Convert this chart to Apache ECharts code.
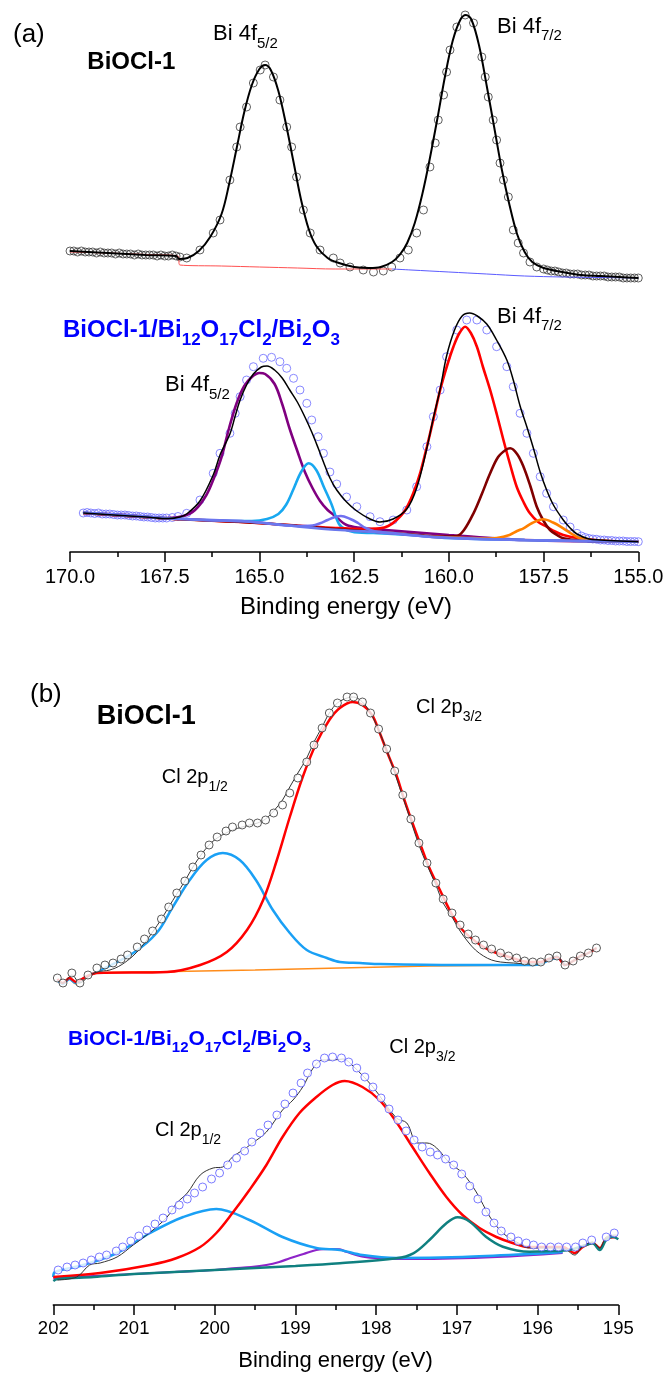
<!DOCTYPE html>
<html><head><meta charset="utf-8">
<script src="https://cdn.jsdelivr.net/npm/echarts@6/dist/echarts.min.js"></script>
<style>html,body{margin:0;padding:0;background:#fff}#c{width:667px;height:1373px}</style>
</head><body><div id="c"></div>
<script>
// ---------- Panel (a): Bi 4f, BiOCl-1 (upper spectrum) ----------
const aTopObs = [[170.0,301],[169.9,301],[169.8,300],[169.7,301],[169.6,300],[169.5,300],[169.4,300],[169.3,299],[169.2,300],[169.1,299],[169.0,299],[168.9,299],[168.8,298],[168.7,299],[168.6,298],[168.5,298],[168.4,298],[168.3,297],[168.2,298],[168.1,297],[168.0,297],[167.9,297],[167.8,297],[167.7,296],[167.6,297],[167.5,296],[167.4,296],[167.3,297],[167.2,296],[167.1,295],[166.92,294],[166.57,302],[166.22,319],[166.04,332],[165.78,372],[165.60,405],[165.51,425],[165.34,445],[165.16,469],[164.98,482],[164.85,487],[164.63,475],[164.46,452],[164.28,425],[164.15,405],[164.02,375],[163.84,342],[163.66,319],[163.40,302],[163.05,294],[162.87,289],[162.61,285],[162.26,282],[161.99,280],[161.73,281],[161.51,285],[161.29,294],[161.07,302],[160.85,319],[160.67,342],[160.50,385],[160.36,409],[160.28,432],[160.14,457],[160.06,480],[159.97,502],[159.79,525],[159.57,537],[159.35,529],[159.13,495],[159.04,475],[158.96,455],[158.83,432],[158.74,412],[158.65,389],[158.56,372],[158.43,355],[158.30,322],[158.17,309],[158.03,299],[157.86,290],[157.68,285],[157.50,283],[157.4,282],[157.3,281],[157.2,281],[157.1,280],[157.0,279],[156.9,279],[156.8,278],[156.7,278],[156.6,278],[156.5,277],[156.4,277],[156.3,277],[156.2,276],[156.1,276],[156.0,276],[155.9,276],[155.8,275],[155.7,275],[155.6,275],[155.5,275],[155.4,274],[155.3,274],[155.2,274],[155.1,274],[155.0,274]];
const aTopFit = [[170.0,301],[169.0,299],[168.0,297],[167.2,296],[167.12,293],[166.9,294],[166.6,301],[166.3,315],[166.0,338],[165.8,368],[165.6,404],[165.4,440],[165.2,467],[165.0,483],[164.85,487],[164.7,482],[164.5,461],[164.3,428],[164.1,390],[163.9,352],[163.7,323],[163.5,306],[163.2,294],[162.9,289],[162.5,285],[162.1,284],[161.8,285],[161.5,290],[161.3,297],[161.1,309],[160.9,329],[160.7,358],[160.5,394],[160.3,434],[160.1,476],[159.9,511],[159.7,532],[159.55,537],[159.4,532],[159.2,506],[159.0,466],[158.8,424],[158.6,382],[158.4,347],[158.2,318],[158.0,300],[157.8,290],[157.5,284],[157.0,280],[156.5,277],[156.0,276],[155.5,275],[155.0,274]];
const aTopBgRed = [[170.0,300],[169.0,299],[168.0,297.5],[167.15,296],[167.1,287],[166.0,286],[165.0,285],[164.0,284],[163.0,283],[162.0,283],[161.5,283]];
const aTopBgBlue = [[161.5,283],[161.0,282],[160.0,280],[159.0,278],[158.0,276],[157.0,275],[156.0,274.5],[155.0,274]];

// ---------- Panel (a): BiOCl-1/Bi12O17Cl2/Bi2O3 (lower spectrum) ----------
const aBotObs = [[169.65,39],[169.55,39.5],[169.45,39],[169.35,38.5],[169.25,39],[169.15,38],[169.05,38],[168.95,38],[168.85,37.5],[168.75,37],[168.65,37],[168.55,37],[168.45,36.5],[168.35,36],[168.25,36],[168.15,35.5],[168.05,35],[167.95,35],[167.85,34.5],[167.75,34],[167.65,34],[167.55,34],[167.45,34],[167.3,34.5],[167.15,35.5],[166.92,38.7],[166.57,52],[166.22,78.7],[166.04,98.7],[165.78,118.7],[165.64,138.7],[165.51,155.3],[165.34,172],[165.16,185.3],[164.90,193.7],[164.68,194.7],[164.46,190.3],[164.28,183.7],[164.10,173.7],[163.93,162],[163.75,148.7],[163.62,132],[163.45,115.3],[163.31,98.7],[163.14,80],[162.96,68],[162.70,55],[162.43,45.3],[162.08,35.3],[161.82,30.3],[161.47,32],[161.11,42],[160.85,65.3],[160.58,105.3],[160.41,135.3],[160.23,162],[160.06,195.3],[159.79,222],[159.53,232],[159.26,232],[159.0,222],[158.74,205.3],[158.47,185.3],[158.30,165.3],[158.12,138.7],[157.94,118.7],[157.77,98.7],[157.59,75.3],[157.42,58.7],[157.24,45.3],[156.98,32],[156.8,25],[156.62,18.7],[156.5,16],[156.4,14.5],[156.3,13.5],[156.2,13],[156.1,12.7],[156.0,12],[155.9,12],[155.8,11.5],[155.7,11.5],[155.6,11],[155.5,11],[155.4,11],[155.3,10.5],[155.2,10.5],[155.1,10.5],[155.0,10.3]];
const aBotFit = [[169.65,39],[168.0,35],[167.4,33.5],[167.1,35],[166.92,38],[166.57,51],[166.22,77],[166.04,97],[165.78,118],[165.64,136],[165.51,152],[165.34,167],[165.16,178],[164.95,185],[164.8,186],[164.6,182],[164.4,174],[164.2,162],[164.0,150],[163.8,135],[163.62,120],[163.45,104],[163.31,90],[163.14,74],[162.96,62],[162.7,50],[162.43,41],[162.08,33],[161.82,30],[161.47,33],[161.11,43],[160.85,64],[160.58,104],[160.41,134],[160.23,163],[160.06,196],[159.85,222],[159.65,236],[159.45,239],[159.25,236],[159.0,228],[158.74,212],[158.47,192],[158.3,172],[158.12,146],[157.94,125],[157.77,104],[157.59,80],[157.42,62],[157.24,47],[156.98,32],[156.8,24],[156.62,18],[156.3,13],[156.0,12],[155.5,11],[155.0,10.3]];
const aBotBg = [[169.65,39.3],[168.5,37],[167.44,33.7],[166.5,32],[165.25,30.3],[163.93,25.3],[162.87,22],[161.5,19],[160.5,15.3],[158.0,12],[155.0,10.3]];
const aBotPurple = [[169.65,39.3],[168.5,37],[167.44,34],[167.0,36],[166.7,42],[166.4,57],[166.2,74],[166.0,95],[165.8,124],[165.6,149],[165.4,166],[165.2,175],[165.0,179],[164.85,178],[164.6,168],[164.4,148],[164.2,123],[164.0,101],[163.8,80],[163.6,64],[163.4,51],[163.2,42],[163.0,36],[162.7,27],[162.3,24],[162.0,23],[161.0,20],[160.0,17],[158.0,12],[155.0,10.3]];
const aBotCyan = [[169.65,39.3],[167.44,33.7],[166.5,32],[165.6,31],[165.2,31],[164.8,33],[164.5,38],[164.3,47],[164.1,63],[163.9,80],[163.7,88.7],[163.5,82],[163.3,65],[163.1,48],[162.9,28],[162.7,22],[162.4,19.5],[162.0,19],[161.0,17],[160.0,14],[158.0,12],[155.0,10.3]];
const aBotViolet = [[169.65,39.3],[167.44,33.7],[165.25,30.3],[164.0,26],[163.6,26.5],[163.4,28.7],[163.2,32],[163.0,35],[162.85,36],[162.6,33],[162.4,29],[162.2,24],[161.9,20],[161.5,18.5],[160.0,14],[158.0,12],[155.0,10.3]];
const aBotRed = [[169.65,39],[167.44,33.5],[165.5,30],[164.0,26.5],[163.0,24],[162.3,23],[161.82,23.7],[161.6,26],[161.38,32],[161.15,42],[160.94,58.7],[160.75,80],[160.58,105.3],[160.4,134],[160.23,162],[160.05,186],[159.88,205.3],[159.72,219],[159.57,225.3],[159.42,219],[159.26,205.3],[159.1,185],[158.91,162],[158.73,137],[158.56,112],[158.38,87],[158.21,65.3],[158.03,50],[157.86,38.7],[157.64,30],[157.42,25.3],[157.2,20.5],[156.98,17],[156.6,14],[156.0,11.5],[155.0,10.3]];
const aBotMaroon = [[169.65,39],[167.44,33.5],[165.0,29],[163.0,23],[161.5,19],[160.5,16],[160.1,15.5],[159.79,16],[159.6,22],[159.35,38.7],[159.13,58],[158.91,78.7],[158.7,95],[158.5,102],[158.38,103.7],[158.2,98],[158.03,85.3],[157.85,66],[157.68,45.3],[157.5,31],[157.33,22],[157.15,17],[156.98,13.7],[156.5,11.5],[155.0,10.3]];
const aBotOrange = [[160.5,15.3],[159.5,14],[159.0,13.5],[158.74,14],[158.4,17],[158.2,21],[158.03,23.7],[157.8,29],[157.51,32.7],[157.25,29.5],[156.98,23.7],[156.75,18],[156.54,13.7],[156.2,11.5],[155.0,10.3]];
const aTicks = [170.0, 167.5, 165.0, 162.5, 160.0, 157.5, 155.0];

// ---------- Panel (b): Cl 2p, BiOCl-1 (upper spectrum) ----------
const bTopObs = [[201.95,327],[201.88,322],[201.77,332],[201.67,322],[201.57,330],[201.46,337],[201.36,340],[201.26,342],[201.16,346],[201.08,350],[200.96,358],[200.87,366],[200.77,374],[200.66,386],[200.57,398],[200.47,412],[200.37,424],[200.27,438],[200.17,450],[200.07,460],[199.97,468],[199.86,474],[199.78,478],[199.66,480],[199.57,482],[199.47,482],[199.37,485],[199.27,492],[199.16,500],[199.07,512],[198.97,527],[198.86,543],[198.77,560],[198.67,577],[198.58,592],[198.48,602],[198.36,608],[198.28,608],[198.17,603],[198.07,592],[197.97,576],[197.87,556],[197.77,534],[197.67,510],[197.57,486],[197.47,462],[197.37,442],[197.26,422],[197.17,406],[197.06,392],[196.96,380],[196.86,371],[196.77,365],[196.67,360],[196.57,356],[196.46,352],[196.36,349],[196.26,347],[196.16,344],[196.06,343],[195.96,343],[195.86,347],[195.76,349],[195.66,340],[195.56,344],[195.47,349],[195.37,352],[195.27,357]];
const bTopFit = [[201.95,325],[201.88,322],[201.77,330],[201.67,322],[201.57,328],[201.46,333],[201.3,335],[201.16,340],[201.0,350],[200.87,362],[200.77,373],[200.66,386],[200.57,398],[200.47,411],[200.37,424],[200.27,438],[200.17,450],[200.07,460],[199.97,467],[199.86,472],[199.78,475],[199.66,478],[199.57,480],[199.47,482],[199.37,486],[199.27,494],[199.16,505],[199.07,518],[198.97,532],[198.86,547],[198.77,563],[198.67,578],[198.58,592],[198.48,602],[198.36,607],[198.28,608],[198.17,603],[198.07,592],[197.97,575],[197.87,555],[197.77,532],[197.67,508],[197.57,484],[197.47,460],[197.37,440],[197.26,420],[197.17,402],[197.06,388],[196.96,374],[196.86,363],[196.77,355],[196.67,349],[196.57,345],[196.46,343],[196.3,342],[196.1,341],[195.96,341],[195.86,346],[195.76,349],[195.66,340],[195.56,344],[195.47,349],[195.37,352],[195.27,357]];
const bTopRed = [[201.95,326],[201.88,322],[201.8,327],[201.72,323],[201.6,328],[201.46,332],[200.59,333],[200.18,340],[199.85,353],[199.60,375],[199.40,405],[199.23,445],[199.07,488],[198.91,528],[198.74,562],[198.58,585],[198.45,597],[198.29,603],[198.17,600],[198.05,590],[197.96,573],[197.86,552],[197.75,530],[197.65,505],[197.55,482],[197.44,458],[197.34,437],[197.21,415],[197.07,392],[196.93,375],[196.76,363],[196.60,355],[196.35,348],[196.10,343],[195.96,343],[195.86,346],[195.76,348],[195.66,340],[195.56,344],[195.47,349],[195.37,352],[195.27,357]];
const bTopBlue = [[201.95,325],[201.88,321],[201.8,326],[201.72,322],[201.6,328],[201.46,333],[201.01,352],[200.72,372],[200.52,398],[200.31,425],[200.10,445],[199.90,452],[199.69,445],[199.49,425],[199.28,395],[199.07,372],[198.86,355],[198.61,347],[198.45,343],[198.2,342],[197.95,341],[197.0,340],[196.1,340],[195.96,341],[195.86,345],[195.76,347],[195.66,339]];
const bTopBg = [[201.95,325],[201.88,321],[201.8,326],[201.72,321],[201.6,327],[201.46,332],[200.5,333.5],[199.5,335],[198.45,337],[197.34,339],[196.1,340],[195.96,341],[195.86,345],[195.76,347],[195.66,339]];

// ---------- Panel (b): BiOCl-1/Bi12O17Cl2/Bi2O3 (lower spectrum) ----------
const bBotObs = [[201.94,35],[201.83,38],[201.73,40],[201.63,42],[201.53,45],[201.43,48],[201.34,50],[201.22,54],[201.14,58],[201.04,64],[200.94,69],[200.84,75],[200.74,81],[200.64,87],[200.53,95],[200.44,100],[200.34,106],[200.25,112],[200.15,118],[200.04,126],[199.94,132],[199.84,140],[199.73,147],[199.63,154],[199.54,163],[199.44,172],[199.34,180],[199.23,190],[199.13,201],[199.03,212],[198.93,222],[198.85,232],[198.74,241],[198.64,247],[198.54,248],[198.43,247],[198.34,243],[198.24,237],[198.14,228],[198.04,218],[197.94,207],[197.84,196],[197.73,185],[197.63,174],[197.53,165],[197.43,158],[197.33,153],[197.24,150],[197.14,146],[197.04,140],[196.94,131],[196.84,119],[196.74,106],[196.64,93],[196.54,82],[196.45,74],[196.33,68],[196.24,64],[196.14,62],[196.05,60],[195.95,58],[195.84,58],[195.74,58],[195.64,58],[195.53,58],[195.44,62],[195.33,65],[195.15,68],[195.05,72]];
const bBotFit = [[201.95,25],[201.71,28],[201.55,40],[201.42,42],[201.21,48],[201.01,60],[200.81,72],[200.59,88],[200.47,102],[200.34,112],[200.18,130],[200.02,137],[199.90,138],[199.78,148],[199.65,155],[199.53,162],[199.36,173],[199.16,195],[199.03,205],[198.91,218],[198.78,237],[198.66,245],[198.54,245],[198.41,246],[198.3,240],[198.04,218],[197.75,187],[197.62,182],[197.49,162],[197.37,162],[197.25,157],[197.09,142],[196.93,132],[196.76,113],[196.59,88],[196.43,72],[196.26,63],[196.10,57],[195.89,57],[195.69,57],[195.54,50],[195.45,58],[195.32,63],[195.23,57],[195.15,68],[195.02,70]];
const bBotRed = [[202.0,28],[201.42,32],[200.80,40],[200.47,47],[200.18,58],[199.98,72],[199.78,92],[199.57,115],[199.36,140],[199.16,168],[198.95,192],[198.74,208],[198.54,220],[198.39,224],[198.17,218],[197.96,205],[197.75,183],[197.55,158],[197.34,132],[197.13,108],[196.93,90],[196.72,77],[196.51,68],[196.31,62],[196.10,58],[195.89,58],[195.69,58],[195.54,52],[195.44,58],[195.32,62],[195.23,57],[195.15,66],[195.02,68]];
const bBotBlue = [[202.0,28],[201.98,33],[201.63,40],[201.21,52],[200.80,72],[200.39,88],[199.98,96],[199.57,85],[199.16,68],[198.74,57],[198.45,55],[198.17,50],[197.75,47],[196.93,48],[196.10,51],[195.69,53]];
const bBotPurple = [[202.0,27],[201.5,29],[201.0,31],[200.5,33],[200.0,35],[199.77,36.7],[199.55,38],[199.36,40],[199.2,43],[199.07,46.7],[198.9,51],[198.74,55],[198.55,56],[198.45,55.7],[198.37,53.3],[198.16,48.3],[197.96,46.7],[197.5,46],[196.5,48],[195.69,52]];
const bBotTeal = [[202.0,24],[201.95,26],[201.5,28],[201.0,31],[200.0,35],[199.0,39],[198.45,41.7],[197.75,46.7],[197.54,51.7],[197.34,65],[197.13,81.7],[196.99,87.7],[196.84,83.3],[196.64,68.3],[196.43,58.3],[196.10,53.3],[195.8,54],[195.61,55],[195.4,60],[195.32,61.7],[195.23,55],[195.15,65],[195.07,68.3],[195.0,65.7]];
const bTicks = [202, 201, 200, 199, 198, 197, 196, 195];

// ---------- Text ----------
const FONT = '"Liberation Sans", Arial, Helvetica, sans-serif';
const labelA = '(a)', labelB = '(b)';
const sample1 = 'BiOCl-1';
const axisTitle = 'Binding energy (eV)';
const mixLabelMain = ['BiOCl-1/Bi', 'O', 'Cl', '/Bi', 'O'];
const mixLabelSub = ['12', '17', '2', '2', '3'];

function ln(data, color, width, gi, z) {
  return {type:'line', data, xAxisIndex:gi, yAxisIndex:gi, showSymbol:false, symbol:'none',
    smooth:0.35, lineStyle:{color, width}, silent:true, z:z, animation:false};
}
function sc(data, color, size, gi, fill, z) {
  return {type:'scatter', data, xAxisIndex:gi, yAxisIndex:gi, symbol:'circle', symbolSize:size,
    itemStyle:{color:fill, borderColor:color, borderWidth:1}, silent:true, z:z, animation:false};
}
function xAxis(gi, min, max, interval, fs, margin, fmt) {
  const ls = {color:'#000', width:1.5};
  return {type:'value', gridIndex:gi, min, max, interval, inverse:true,
    axisLine:{show:true, onZero:false, lineStyle:ls},
    axisTick:{show:true, inside:false, length:10, lineStyle:ls},
    minorTick:{show:true, splitNumber:2, length:5, lineStyle:ls},
    splitLine:{show:false}, minorSplitLine:{show:false},
    axisLabel:{show:true, fontSize:fs, fontFamily:FONT, color:'#000', margin, formatter:fmt, showMinLabel:true, showMaxLabel:true}};
}
function sub(main, subs, color, fm, fs, pad, bold) {
  const parts = [];
  main.forEach((m, i) => { parts.push('{m|' + m + '}'); if (subs[i]) parts.push('{s|' + subs[i] + '}'); });
  const w = bold ? 'bold' : 'normal';
  return {text: parts.join(''), rich:{
    m:{fontSize:fm, fontFamily:FONT, fontWeight:w, fill:color},
    s:{fontSize:fs, fontFamily:FONT, fontWeight:w, fill:color, padding:[pad,0,0,0]}}};
}
function txt(x, y, style, align) {
  return {type:'text', x, y, silent:true, z:100,
    style:Object.assign({verticalAlign:'top', align:align||'left'}, style)};
}
function plain(x, y, s, fs, bold, color, align) {
  return txt(x, y, {text:s, fontSize:fs, fontFamily:FONT, fontWeight:bold?'bold':'normal', fill:color||'#000'}, align);
}
function rich(x, y, r, color) { return txt(x, y, {text:r.text, rich:r.rich, fill:color||'#000'}); }

const chart = echarts.init(document.getElementById('c'), null, {renderer:'canvas'});
chart.setOption({
  animation:false,
  backgroundColor:'#fff',
  grid:[
    {left:70, right:28.7, top:0, height:552},
    {left:53.3, right:48.7, top:665, height:640}
  ],
  xAxis:[
    xAxis(0, 155, 170, 2.5, 20, 15, v => v.toFixed(1)),
    xAxis(1, 195, 202, 1, 18.5, 14, v => String(v))
  ],
  yAxis:[
    {type:'value', gridIndex:0, min:0, max:552, show:false},
    {type:'value', gridIndex:1, min:0, max:640, show:false}
  ],
  series:[
    // (a) upper
    sc(aTopObs, '#3a3a3a', 8, 0, 'rgba(255,255,255,0)', 2),
    ln(aTopBgRed, '#ff5050', 1, 0, 3),
    ln(aTopBgBlue, '#5a5aff', 1, 0, 3),
    ln(aTopFit, '#000', 2, 0, 4),
    // (a) lower
    sc(aBotObs, '#6b6bff', 8, 0, 'rgba(255,255,255,0)', 2),
    ln(aBotPurple, '#800080', 2.6, 0, 3),
    ln(aBotCyan, '#18a8f0', 2.6, 0, 3),
    ln(aBotRed, '#ff0000', 2.6, 0, 3),
    ln(aBotMaroon, '#800000', 2.6, 0, 3),
    ln(aBotOrange, '#ff8000', 2.6, 0, 3),
    ln(aBotViolet, '#7070f0', 2.6, 0, 3),
    ln(aBotBg, '#6a78ee', 2.6, 0, 3),
    ln(aBotFit, '#000', 1.5, 0, 4),
    // (b) upper
    ln(bTopBg, '#ff8c1a', 1.5, 1, 2),
    ln(bTopBlue, '#1aa0f5', 2.5, 1, 2),
    ln(bTopRed, '#ff0000', 2.5, 1, 2),
    ln(bTopFit, '#333', 1, 1, 3),
    sc(bTopObs, '#333', 8, 1, '#fff', 4),
    // (b) lower
    ln(bBotPurple, '#8e24c8', 2.2, 1, 2),
    ln(bBotBlue, '#1aa0f5', 2.5, 1, 2),
    ln(bBotRed, '#ff0000', 2.5, 1, 2),
    ln(bBotTeal, '#108080', 2.5, 1, 2),
    ln(bBotFit, '#333', 1, 1, 3),
    sc(bBotObs, '#5a5aff', 8, 1, '#fff', 4)
  ],
  graphic:[
    plain(13, 21.5, labelA, 26, false),
    plain(87.3, 50, sample1, 24, true),
    rich(213, 17, sub(['Bi 4f'], ['5/2'], '#000', 22, 15, 19, false)),
    rich(497, 9.5, sub(['Bi 4f'], ['7/2'], '#000', 22, 15, 19, false)),
    rich(63, 312, sub(mixLabelMain, mixLabelSub, '#0000ff', 24, 17, 19.5, true), '#0000ff'),
    rich(165, 368, sub(['Bi 4f'], ['5/2'], '#000', 22, 15, 19, false)),
    rich(497, 299.5, sub(['Bi 4f'], ['7/2'], '#000', 22, 15, 19, false)),
    plain(346, 595, axisTitle, 24, false, '#000', 'center'),
    plain(30, 681.5, labelB, 26, false),
    plain(96.7, 703, sample1, 27, true),
    rich(161.7, 760.5, sub(['Cl 2p'], ['1/2'], '#000', 20, 14, 20, false)),
    rich(416, 690.5, sub(['Cl 2p'], ['3/2'], '#000', 20, 14, 20, false)),
    rich(68, 1023, sub(mixLabelMain, mixLabelSub, '#0000ff', 21, 15, 17.6, true), '#0000ff'),
    rich(155, 1113, sub(['Cl 2p'], ['1/2'], '#000', 20, 14, 20, false)),
    rich(389.3, 1030.5, sub(['Cl 2p'], ['3/2'], '#000', 20, 14, 20, false)),
    plain(335.5, 1350, axisTitle, 22, false, '#000', 'center')
  ]
});
</script></body></html>
